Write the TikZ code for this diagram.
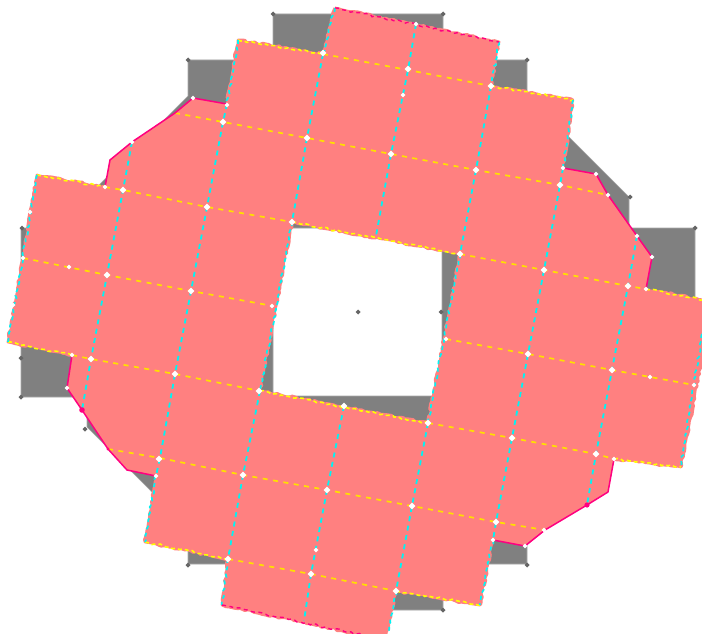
\documentclass[tikz,border=0pt]{standalone}
\usetikzlibrary{decorations.pathmorphing}
\definecolor{blockgray}{HTML}{808080}
\definecolor{edgegray}{HTML}{A8A8A8}
\definecolor{blockpink}{HTML}{FF8080}
\definecolor{meshyellow}{HTML}{FFE000}
\definecolor{rimyellow}{HTML}{FFFF00}
\definecolor{meshcyan}{HTML}{00F4F4}
\definecolor{rimmagenta}{HTML}{FF0080}
\tikzset{
  x=1pt,y=-1pt,
  wob/.style={decorate,decoration={random steps,segment length=3.2pt,amplitude=1.1pt}},
  rimpink/.style={wob,draw=blockpink,line width=2.8pt,line join=round},
  ydash/.style={draw=meshyellow,line width=1.7pt,dash pattern=on 5pt off 5.5pt},
  cdash/.style={draw=meshcyan,line width=1.8pt,dash pattern=on 5pt off 4.5pt},
  yrim/.style={wob,draw=rimyellow,line width=1.6pt,dash pattern=on 4pt off 3pt},
  crim/.style={wob,draw=meshcyan,line width=1.7pt,dash pattern=on 4pt off 3.5pt},
  mrim/.style={draw=rimmagenta,line width=1.5pt,line join=round},
  mdash/.style={wob,draw=rimmagenta,line width=1.4pt,dash pattern=on 4pt off 3.5pt},
  whitepin/.style={fill=white,draw=none},
  graypin/.style={fill=blockgray!80!black,draw=none},
}
\pgfmathsetseed{11}
\newcommand{\wpin}[2]{\fill[whitepin] (#1-3.4,#2) -- (#1,#2-3.4) -- (#1+3.4,#2) -- (#1,#2+3.4) -- cycle;}
\newcommand{\wsm}[2]{\fill[whitepin] (#1-2.4,#2) -- (#1,#2-2.4) -- (#1+2.4,#2) -- (#1,#2+2.4) -- cycle;}
\newcommand{\gpin}[2]{\fill[graypin] (#1-2.5,#2) -- (#1,#2-2.5) -- (#1+2.5,#2) -- (#1,#2+2.5) -- cycle;}
\begin{document}
\begin{tikzpicture}
\useasboundingbox (0,0) rectangle (702,634);
\fill[white] (0,0) rectangle (702,634);
\clip (0,0) rectangle (702,634);

% grey ring
\fill[blockgray,draw=edgegray,line width=.6pt,even odd rule]
  (273,14) -- (443,14) -- (443,60) -- (527,60) -- (527,95) -- (569,137) -- (629,197) -- (629,228)
  -- (695,228) -- (695,397) -- (629,397) -- (629,427) -- (569,487) -- (527,529) -- (527,564)
  -- (443,564) -- (443,610) -- (273,610) -- (273,564) -- (188,564) -- (188,529) -- (147,487)
  -- (87,427) -- (87,397) -- (21,397) -- (21,228) -- (87,228) -- (87,197) -- (147,137)
  -- (188,96) -- (188,60) -- (273,60) -- cycle
  (273,228) -- (442,228) -- (442,396) -- (273,396) -- cycle;
\gpin{273}{14}\gpin{443}{14}\gpin{188}{60}\gpin{527}{60}\gpin{630}{197}\gpin{695}{228}
\gpin{22}{228}\gpin{21}{397}\gpin{21}{358}\gpin{695}{352}\gpin{85}{429}\gpin{188}{565}\gpin{527}{565}\gpin{443}{610}
\gpin{358}{312}\gpin{441}{312}

% pink body
\path[fill=blockpink,even odd rule]
  (335,8) -- (499,42) -- (491,86) -- (573,100) -- (563,168) -- (596,174) -- (608,195) -- (637,236)
  -- (652,257) -- (646,289) -- (713,302) -- (681,467) -- (614,459) -- (608,492) -- (587,505)
  -- (545,530) -- (525,546) -- (493,540) -- (480,605) -- (396,591) -- (385,640) -- (222,605)
  -- (228,559) -- (145,542) -- (156,476) -- (127,470) -- (108,449) -- (82,410) -- (67,388)
  -- (72,355) -- (8,342) -- (37,175) -- (105,187) -- (110,160) -- (132,142) -- (175,113)
  -- (193,98) -- (227,104) -- (238,40) -- (323,54) -- cycle
  (292,222) -- (460,254) -- (428,423) -- (260,391) -- cycle;

% jagged pink rim of the straight edges
\draw[rimpink] (335,8) -- (499,42) -- (491,86) -- (573,100) -- (563,168);
\draw[rimpink] (646,289) -- (713,302) -- (681,467) -- (614,459);
\draw[rimpink] (493,540) -- (480,605) -- (396,591) -- (385,640) -- (222,605) -- (228,559) -- (145,542) -- (156,476);
\draw[rimpink] (72,355) -- (8,342) -- (37,175) -- (105,187);
\draw[rimpink] (227,104) -- (238,40) -- (323,54) -- (335,8);
\draw[rimpink] (292,222) -- (460,254) -- (428,423) -- (260,391) -- cycle;

% inner yellow mesh lines
\draw[ydash] (323,54) -- (408,70) -- (491,86);
\draw[ydash] (175,113) -- (223,122) -- (307,138) -- (391,154) -- (476,170) -- (560,185) -- (608,195);
\draw[ydash] (105,187) -- (123,190) -- (207,207) -- (292,222);
\draw[ydash] (460,254) -- (544,270) -- (628,286) -- (646,289);
\draw[ydash] (23,258) -- (107,275) -- (191,291) -- (273,306);
\draw[ydash] (446,339) -- (528,354) -- (612,370) -- (694,385);
\draw[ydash] (72,355) -- (91,359) -- (175,374) -- (260,391);
\draw[ydash] (428,423) -- (512,438) -- (596,454) -- (614,459);
\draw[ydash] (108,449) -- (160,458) -- (243,475) -- (327,490) -- (412,506) -- (496,522) -- (545,530);
\draw[ydash] (228,559) -- (311,574) -- (396,591);

% inner cyan mesh lines
\draw[cdash] (132,142) -- (123,190) -- (107,275) -- (91,359) -- (82,410);
\draw[cdash] (227,104) -- (223,122) -- (207,207) -- (191,291) -- (175,374) -- (160,458) -- (156,476);
\draw[cdash] (323,54) -- (307,138) -- (292,222);
\draw[cdash] (260,391) -- (243,475) -- (228,559);
\draw[cdash] (416,24) -- (408,70) -- (391,154) -- (376,236);
\draw[cdash] (344,406) -- (327,490) -- (311,574) -- (304,621);
\draw[cdash] (491,86) -- (476,170) -- (460,254);
\draw[cdash] (428,423) -- (412,506) -- (396,591);
\draw[cdash] (563,168) -- (560,185) -- (544,270) -- (528,354) -- (512,438) -- (496,522) -- (493,540);
\draw[cdash] (637,236) -- (628,286) -- (612,370) -- (596,454) -- (587,505);

% rim: yellow
\draw[yrim] (238,40) -- (323,54);
\draw[yrim] (491,86) -- (573,100);
\draw[yrim] (37,175) -- (105,187);
\draw[yrim] (292,222) -- (460,254);
\draw[yrim] (646,289) -- (702,300);
\draw[yrim] (8,342) -- (72,355);
\draw[yrim] (260,391) -- (428,423);
\draw[yrim] (614,459) -- (681,467);
\draw[yrim] (145,542) -- (228,559);
\draw[yrim] (396,591) -- (480,605);

% rim: cyan
\draw[crim] (238,40) -- (227,104);
\draw[crim] (335,8) -- (323,54);
\draw[crim] (499,42) -- (491,86);
\draw[crim] (573,100) -- (563,168);
\draw[crim] (37,175) -- (8,342);
\draw[crim] (292,222) -- (260,391);
\draw[crim] (460,254) -- (428,423);
\draw[crim] (702,334) -- (681,467);
\draw[crim] (156,476) -- (145,542);
\draw[crim] (228,559) -- (222,605);
\draw[crim] (493,540) -- (480,605);
\draw[crim] (396,591) -- (388,634);

% rim: magenta
\draw[mdash] (335,8) -- (499,42);
\draw[mdash] (222,605) -- (385,640);
\draw[mrim] (563,168) -- (596,174) -- (608,195) -- (637,236) -- (652,257) -- (646,289);
\draw[mrim] (614,459) -- (608,492) -- (587,505) -- (545,530) -- (525,546) -- (493,540);
\draw[mrim] (156,476) -- (127,470) -- (108,449) -- (82,410) -- (67,388) -- (72,355);
\draw[mrim] (105,187) -- (110,160) -- (132,142) -- (175,113) -- (193,98) -- (227,104);
\fill[rimmagenta] (82,410) circle (2.8pt) (587,505) circle (2.6pt) (108,449) circle (1.6pt);

% white pins at mesh crossings
\foreach \px/\py in {323/53,223/122,307/138,207/207,292/222,123/190,107/275,191/291,408/69,491/86,
  391/154,476/170,560/185,460/254,544/270,628/286,91/359,175/374,259/391,344/406,159/459,243/475,
  327/490,228/559,311/574,528/354,612/370,428/423,512/438,596/454,412/506,496/522,396/591}
  {\wpin{\px}{\py}}
\foreach \px/\py in {416/24,193/98,132/142,105/187,227/105,23/258,272/306,563/168,596/174,608/195,
  652/257,646/289,637/236,446/339,694/385,614/459,544/530,525/546,493/540,67/388,72/355,156/476,
  403/95,69/267,30/212,316/550,650/377,13/305}
  {\wsm{\px}{\py}}
\end{tikzpicture}
\end{document}
